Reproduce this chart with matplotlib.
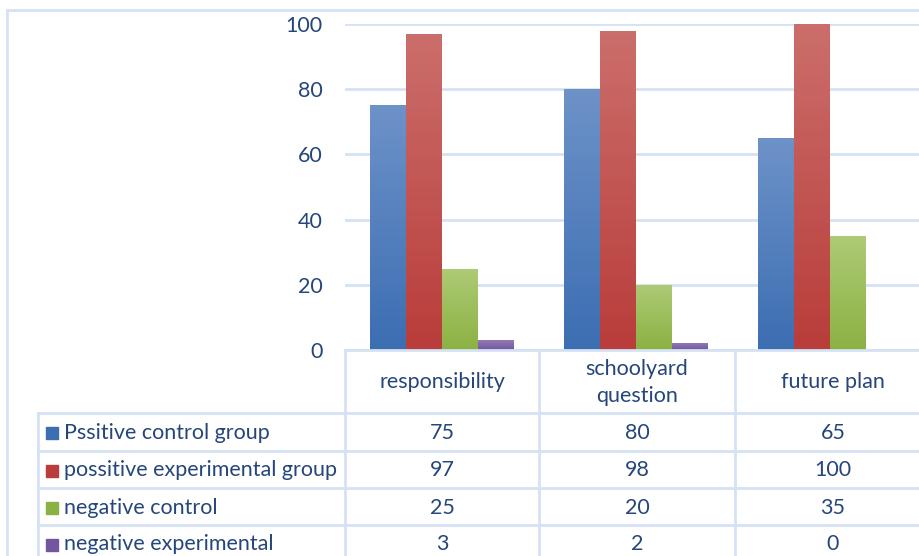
import numpy as np
import matplotlib
matplotlib.use('Agg')
import matplotlib.pyplot as plt
from matplotlib.colors import LinearSegmentedColormap

plt.rcParams['font.family'] = ['Lato', 'DejaVu Sans']

categories = ['responsibility', 'schoolyard\nquestion', 'future plan']
series = ['Pssitive control group', 'possitive experimental group',
          'negative control', 'negative experimental']
pos_control = [75, 80, 65]
pos_experimental = [97, 98, 100]
neg_control = [25, 20, 35]
neg_experimental = [3, 2, 0]
values = [pos_control, pos_experimental, neg_control, neg_experimental]
yticks = [0, 20, 40, 60, 80, 100]

# (top, bottom) gradient colours per series
grads = [('#6d92c8', '#3c6eb2'), ('#cb6e6b', '#b93d3a'),
         ('#adcb75', '#8cb143'), ('#9079b3', '#7356a0')]

txt = '#25467a'
line = '#d5e2f3'
fs = 15.5
W, H = 919, 556

fig = plt.figure(figsize=(W / 100, H / 100), dpi=100)


def fx(px):
    return px / W


def fy(py):
    return 1 - py / H


# plot area in pixels
left, right, top, bottom = 345, 927, 24, 350
ax = fig.add_axes([fx(left), fy(bottom), fx(right - left), fy(top) - fy(bottom)])
ax.set_xlim(-0.5, 2.5)
ax.set_ylim(0, 100)
ax.set_xticks([])
ax.set_yticks(yticks)
ax.tick_params(axis='y', length=0, pad=16, labelsize=fs, labelcolor=txt)
for s in ax.spines.values():
    s.set_visible(False)
ax.grid(axis='y', color=line, lw=2)
ax.set_axisbelow(True)

bw = 36 / 194
x = np.arange(len(categories))
for i, vals in enumerate(values):
    bars = ax.bar(x + (i - 1.5) * bw, vals, width=bw, color=grads[i][1], zorder=2)
    cmap = LinearSegmentedColormap.from_list('g%d' % i, [grads[i][1], grads[i][0]])
    for b in bars:
        if b.get_height() <= 0:
            continue
        bx, by = b.get_x(), b.get_y()
        im = ax.imshow(np.linspace(0, 1, 64).reshape(-1, 1), cmap=cmap, aspect='auto',
                       origin='lower', extent=[bx, bx + b.get_width(), by, by + b.get_height()],
                       zorder=3)
        im.set_clip_path(b)
ax.set_xlim(-0.5, 2.5)
ax.set_ylim(0, 100)

# outer chart border
fig.add_artist(plt.Line2D([fx(7), fx(7)], [fy(10), 0], color=line, lw=2))
fig.add_artist(plt.Line2D([fx(7), 1], [fy(10), fy(10)], color=line, lw=2))

# data table
col_edges = [345, 539, 735, 931]
row_edges = [350, 413, 451, 488, 525, 562]
lab_left = 38

for px in col_edges[:-1]:
    fig.add_artist(plt.Line2D([fx(px), fx(px)], [fy(350), 0], color=line, lw=2))
fig.add_artist(plt.Line2D([fx(lab_left), fx(lab_left)], [fy(413), 0], color=line, lw=2))
fig.add_artist(plt.Line2D([fx(345), 1], [fy(350), fy(350)], color=line, lw=2))
for py in row_edges[1:-1]:
    fig.add_artist(plt.Line2D([fx(lab_left), 1], [fy(py), fy(py)], color=line, lw=2))

col_centers = [(col_edges[j] + col_edges[j + 1]) / 2 for j in range(3)]
for j, c in enumerate(categories):
    fig.text(fx(col_centers[j]), fy((row_edges[0] + row_edges[1]) / 2 + 1), c,
             ha='center', va='center', color=txt, fontsize=fs, linespacing=1.45)

for i, name in enumerate(series):
    yc = fy((row_edges[i + 1] + row_edges[i + 2]) / 2 + 1)
    fig.patches.append(plt.Rectangle((fx(46), yc - 6 / H), 12 / W, 12 / H,
                                     transform=fig.transFigure, color=grads[i][1]))
    fig.text(fx(64), yc, name, ha='left', va='center', color=txt, fontsize=fs)
    for j in range(3):
        fig.text(fx(col_centers[j]), yc, str(values[i][j]),
                 ha='center', va='center', color=txt, fontsize=fs)

fig.savefig('out.png', dpi=100)
